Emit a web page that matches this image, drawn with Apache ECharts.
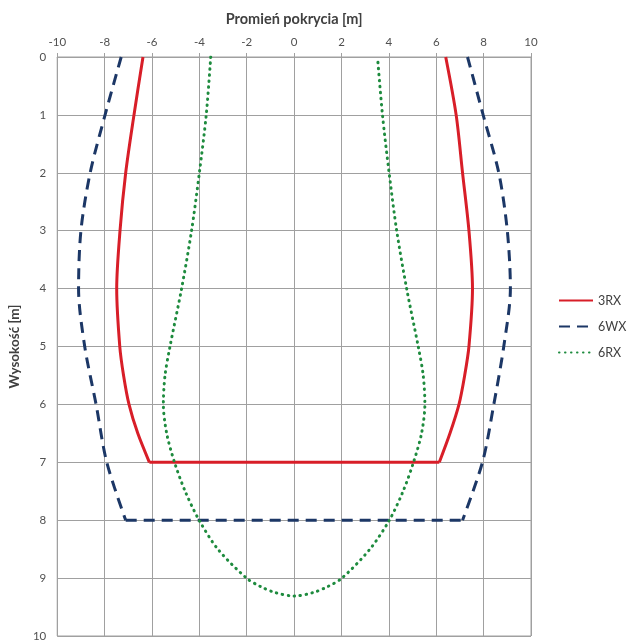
<!DOCTYPE html>
<html>
<head>
<meta charset="utf-8">
<script src="https://cdn.jsdelivr.net/npm/echarts@6/dist/echarts.min.js"></script>
<style>
html,body{margin:0;padding:0;background:#fff;}
#chart{width:627px;height:642px;}
</style>
</head>
<body>
<div id="chart"></div>
<script>
// Tick values
const xTicks = [-10,-8,-6,-4,-2,0,2,4,6,8,10];
const yTicks = [0,1,2,3,4,5,6,7,8,9,10];

// 3RX
const h3RX = [0,1,2,3,4,5,5.5,6,6.5,7];
const left3RX = [-6.38,-6.76,-7.11,-7.35,-7.49,-7.36,-7.2,-6.97,-6.6,-6.11];
const right3RX = [6.40,6.84,7.11,7.38,7.53,7.38,7.2,6.96,6.58,6.13];

// 6WX
const h6WX = [0,1,2,3,4,5,6,7,8];
const left6WX = [-7.3,-7.98,-8.61,-9.0,-9.1,-8.84,-8.36,-7.91,-7.11];
const right6WX = [7.32,7.98,8.64,9.0,9.13,8.85,8.43,7.95,7.11];

// 6RX
const h6RX = [0,1,2,3,4,5,5.5,6,6.5,7,7.5,8,8.5,9,9.15,9.25];
const left6RX = [-3.52,-3.71,-4.0,-4.33,-4.75,-5.24,-5.45,-5.52,-5.38,-5.05,-4.6,-4.01,-3.22,-2.01,-1.4,-0.8];
const right6RX = [3.52,3.73,4.01,4.33,4.75,5.24,5.45,5.52,5.38,5.04,4.6,4.02,3.2,2.02,1.4,0.8];
const bottom6RX = 9.31;

const names = ['3RX','6WX','6RX'];
const colors = {'3RX':'#d81e28','6WX':'#1c3766','6RX':'#1e8b3e'};
const styles = {
  '3RX': {width:3, type:'solid'},
  '6WX': {width:3, type:[11,7], cap:'butt'},
  '6RX': {width:3, type:[0.5,5.5], cap:'round'}
};

function pts(xs, hs){ return hs.map((h,i)=>[xs[i],h]); }

function mk(name, data, smooth){
  return {
    name: name, type:'line', data: data, smooth: smooth,
    showSymbol:false, symbol:'none',
    lineStyle: Object.assign({color: colors[name]}, styles[name]),
    itemStyle:{color: colors[name]},
    z: 3
  };
}

const last3 = h3RX.length-1;
const last6 = h6WX.length-1;
const greenPath = pts(left6RX,h6RX).concat([[0,bottom6RX]]).concat(pts(right6RX,h6RX).reverse());

const series = [
  mk('3RX', pts(left3RX,h3RX), 0.3),
  mk('3RX', [[left3RX[last3],h3RX[last3]],[right3RX[last3],h3RX[last3]]], false),
  mk('3RX', pts(right3RX,h3RX), 0.3),
  mk('6WX', pts(left6WX,h6WX), 0.3),
  mk('6WX', [[left6WX[last6],h6WX[last6]],[right6WX[last6],h6WX[last6]]], false),
  mk('6WX', pts(right6WX,h6WX), 0.3),
  mk('6RX', greenPath, 0.3)
];

const font = 'Lato, "Open Sans", sans-serif';
const chart = echarts.init(document.getElementById('chart'), null, {renderer:'canvas'});
chart.setOption({
  animation:false,
  backgroundColor:'#fff',
  textStyle:{fontFamily:font},
  grid:{left:56, right:96, top:57, bottom:2, show:true, borderColor:'#a0a0a0', borderWidth:1},
  legend:{
    data:names, orient:'vertical', left:553, top:289, itemWidth:34, itemHeight:12, itemGap:13,
    itemStyle:{opacity:0},
    textStyle:{fontFamily:font, fontSize:12.5, color:'#404040'}
  },
  xAxis:{
    type:'value', position:'top', min:xTicks[0], max:xTicks[xTicks.length-1], interval:2,
    name:'Promień pokrycia [m]', nameLocation:'middle', nameGap:30,
    nameTextStyle:{fontFamily:font, fontWeight:'bold', fontSize:14.5, color:'#404040'},
    axisLine:{show:true, lineStyle:{color:'#a0a0a0', width:1}},
    axisTick:{show:true, length:4, lineStyle:{color:'#a0a0a0'}},
    axisLabel:{fontFamily:font, fontSize:11.5, color:'#505050', margin:9},
    splitLine:{show:true, lineStyle:{color:'#a0a0a0', width:1}}
  },
  yAxis:{
    type:'value', inverse:true, min:yTicks[0], max:yTicks[yTicks.length-1], interval:1,
    name:'Wysokość [m]', nameLocation:'middle', nameGap:26,
    nameTextStyle:{fontFamily:font, fontWeight:'bold', fontSize:13.5, color:'#404040'},
    axisLine:{show:true, lineStyle:{color:'#a0a0a0', width:1}},
    axisTick:{show:true, length:4, lineStyle:{color:'#a0a0a0'}},
    axisLabel:{fontFamily:font, fontSize:11.5, color:'#505050', margin:11},
    splitLine:{show:true, lineStyle:{color:'#a0a0a0', width:1}}
  },
  series: series
});
</script>
</body>
</html>
